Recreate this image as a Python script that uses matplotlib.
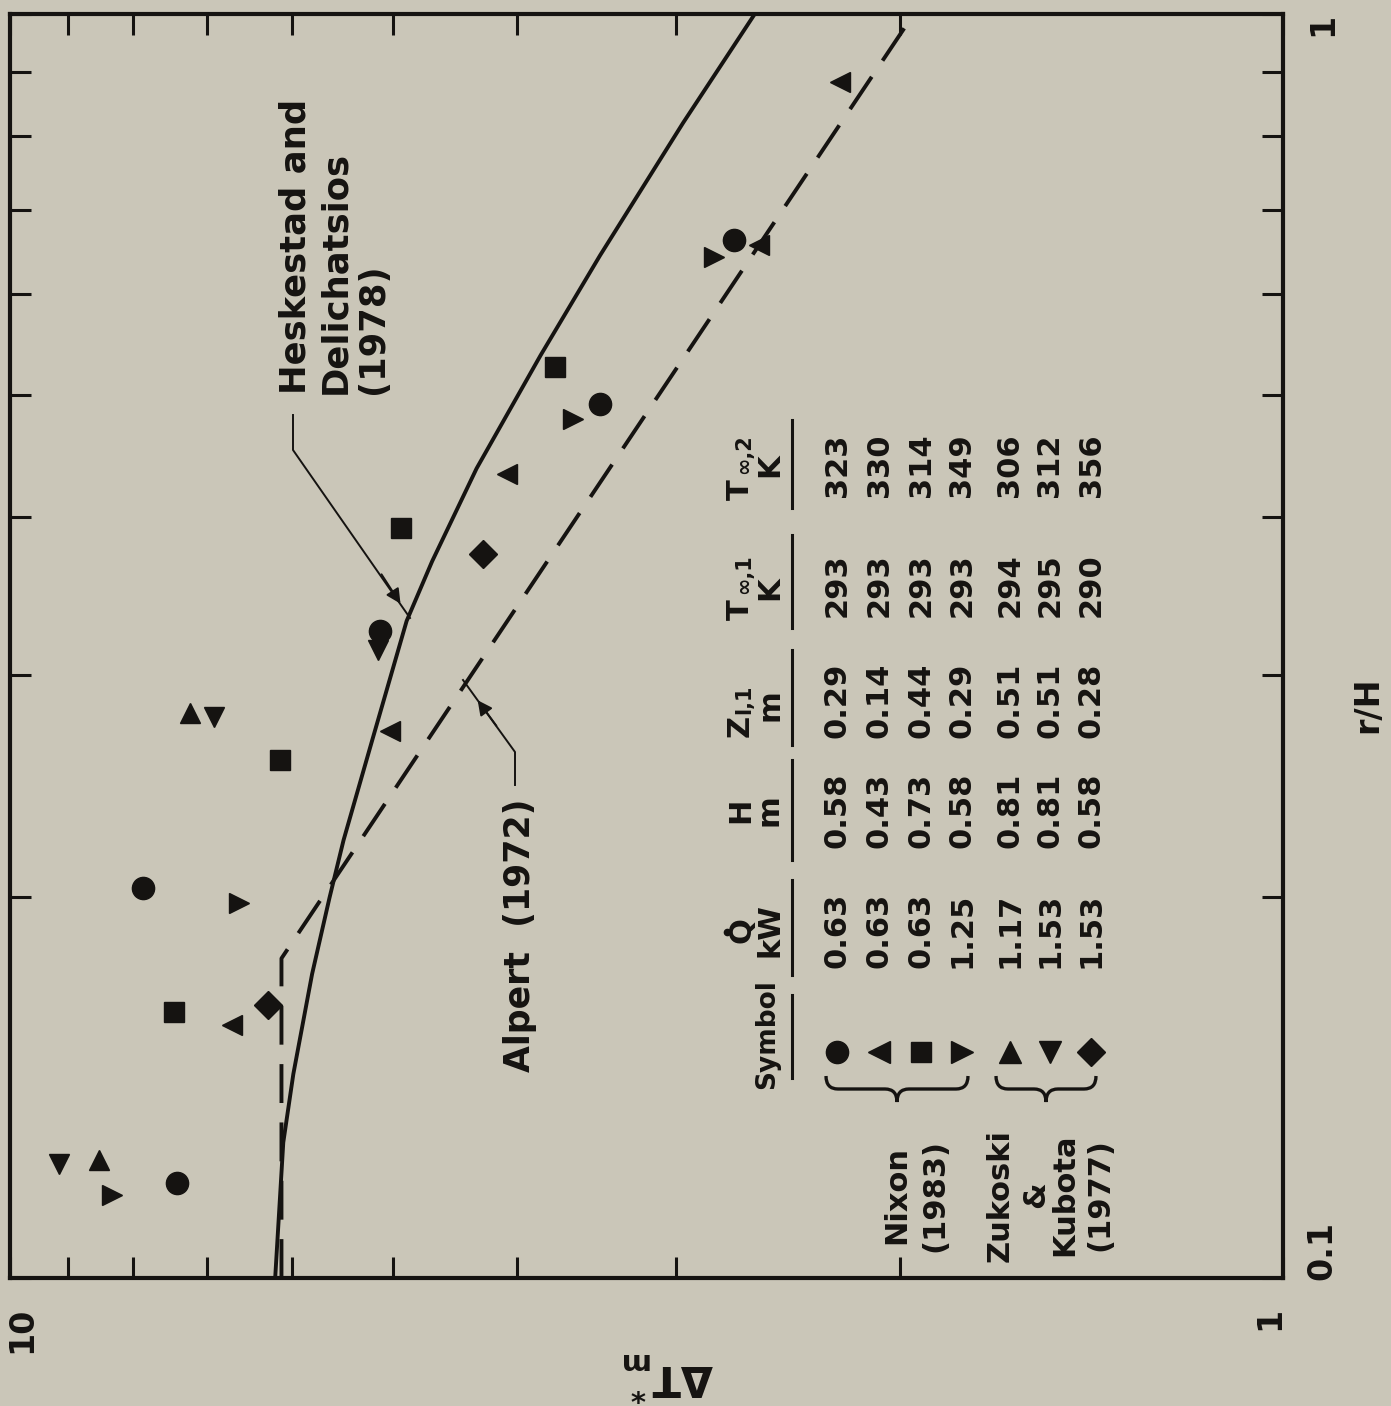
import numpy as np
import matplotlib
matplotlib.use("Agg")
import matplotlib.pyplot as plt
from matplotlib.path import Path
from matplotlib.patches import PathPatch, FancyArrowPatch

# rotated scanned figure: horizontal axis = dT*_m (10 -> 1), vertical axis = r/H (0.1 -> 1)

# Nixon (1983)
circle_rh = [0.119, 0.2035, 0.325, 0.491, 0.662]
circle_dt = [7.39, 7.86, 5.12, 3.44, 2.70]
left_rh = [0.1586, 0.271, 0.4326, 0.656, 0.884]
left_dt = [6.69, 5.03, 4.07, 2.58, 2.23]
square_rh = [0.1624, 0.257, 0.392, 0.5255]
square_dt = [7.43, 6.14, 4.93, 3.73]
right_rh = [0.1163, 0.198, 0.478, 0.642]
right_dt = [8.32, 6.61, 3.61, 2.80]
# Zukoski & Kubota (1977)
up_rh = [0.124, 0.28]
up_dt = [8.51, 7.22]
down_rh = [0.123, 0.278, 0.314]
down_dt = [9.15, 6.92, 5.14]
diam_rh = [0.1645, 0.374]
diam_dt = [6.27, 4.25]

# Heskestad and Delichatsios (1978)
hd_rh = [0.10, 0.128, 0.145, 0.174, 0.20, 0.222, 0.267, 0.331, 0.369, 0.437, 0.537, 0.644, 0.82, 1.0]
hd_dt = [6.19, 6.10, 5.99, 5.79, 5.61, 5.47, 5.19, 4.88, 4.66, 4.30, 3.83, 3.44, 2.96, 2.60]
# Alpert (1972)
al_rh = [0.10, 0.179, 1.0]
al_dt = [6.12, 6.12, 1.95]

# table
tab_q = [0.63, 0.63, 0.63, 1.25, 1.17, 1.53, 1.53]
tab_h = [0.58, 0.43, 0.73, 0.58, 0.81, 0.81, 0.58]
tab_z = [0.29, 0.14, 0.44, 0.29, 0.51, 0.51, 0.28]
tab_t1 = [293, 293, 293, 293, 294, 295, 290]
tab_t2 = [323, 330, 314, 349, 306, 312, 356]
tab_sym = ['o', '<', 's', '>', '^', 'v', 'D']

W, H = 1391, 1406
BG = '#cac6b8'
INK = '#151311'

plt.rcParams['font.family'] = 'DejaVu Sans'
plt.rcParams['font.weight'] = 'bold'
plt.rcParams['mathtext.fontset'] = 'custom'
plt.rcParams['mathtext.rm'] = 'DejaVu Sans:bold'
plt.rcParams['mathtext.it'] = 'DejaVu Sans:bold'
plt.rcParams['mathtext.bf'] = 'DejaVu Sans:bold'

fig = plt.figure(figsize=(W / 100, H / 100), dpi=100, facecolor=BG)


def P(x, y):
    # pixel (top-left origin) -> figure fraction
    return x / W, 1 - y / H


def T(x, y, s, size=22, **kw):
    kw.setdefault('ha', 'center')
    kw.setdefault('va', 'center')
    kw.setdefault('rotation', 90)
    fig.text(*P(x, y), s, fontsize=size, color=INK, fontweight='bold', **kw)


def seg(pts, lw=1.4):
    xs, ys = zip(*[P(*p) for p in pts])
    fig.add_artist(plt.Line2D(xs, ys, color=INK, lw=lw))


ax = fig.add_axes([10 / W, 1 - 1278 / H, 1273 / W, 1264 / H])
ax.set_facecolor(BG)
ax.set_xscale('log')
ax.set_yscale('log')
ax.set_xlim(10, 1)
ax.set_ylim(0.1, 1)
for sp in ax.spines.values():
    sp.set_linewidth(3)
    sp.set_color(INK)
ax.set_xticks([1, 10])
ax.set_xticks([2, 3, 4, 5, 6, 7, 8, 9], minor=True)
ax.set_yticks([0.1, 1])
ax.set_yticks([0.2, 0.3, 0.4, 0.5, 0.6, 0.7, 0.8, 0.9], minor=True)
ax.tick_params(which='both', direction='in', top=True, right=True, length=15,
               width=2.2, color=INK, labelbottom=False, labelleft=False)

ax.plot(hd_dt, hd_rh, '-', color=INK, lw=2.8, solid_capstyle='round', solid_joinstyle='round')
ax.plot(al_dt, al_rh, '-', color=INK, lw=2.8, dashes=(10, 5))

mk = dict(color=INK, ls='none', clip_on=False)
ax.plot(circle_dt, circle_rh, 'o', ms=16, **mk)
ax.plot(left_dt, left_rh, '<', ms=15, **mk)
ax.plot(square_dt, square_rh, 's', ms=14, **mk)
ax.plot(right_dt, right_rh, '>', ms=15, **mk)
ax.plot(up_dt, up_rh, '^', ms=15, **mk)
ax.plot(down_dt, down_rh, 'v', ms=15, **mk)
ax.plot(diam_dt, diam_rh, 'D', ms=14, **mk)

# tick labels and axis titles
T(22, 1330, '10', 24)
T(1270, 1318, '1', 24)
T(1322, 1250, '0.1', 24)
T(1323, 24, '1', 24)
T(1368, 705, 'r/H', 24)
T(668, 1378, r'$\Delta$T$^*_{\mathrm{m}}$', 30, rotation=180)

# curve labels
T(296, 394, 'Heskestad and', 25.5, va='bottom')
T(335, 394, 'Delichatsios', 25.5, va='bottom')
T(373, 394, '(1978)', 25.5, va='bottom')
T(520, 935, 'Alpert  (1972)', 25)

# leader lines
seg([(293, 415), (293, 450), (410, 618)])
seg([(515, 785), (515, 752), (463, 680)])
fig.patches.append(FancyArrowPatch(P(380, 572), P(402, 606), transform=fig.transFigure,
                                   arrowstyle='-|>', mutation_scale=22, color=INK, lw=1.4))
fig.patches.append(FancyArrowPatch(P(498, 728), P(476, 698), transform=fig.transFigure,
                                   arrowstyle='-|>', mutation_scale=22, color=INK, lw=1.4))

# table header
T(767, 1034, 'Symbol', 19)
T(742, 930, 'Q', 22)
qx, qy = P(727, 932)
fig.add_artist(plt.Line2D([qx], [qy], marker='o', ms=4.5, color=INK, ls='none'))
T(770, 930, 'kW', 22)
T(741, 810, 'H', 22)
T(769, 810, 'm', 22)
T(740, 726, 'Z', 22)
T(744, 699, 'l,1', 15)
T(770, 705, 'm', 22)
T(740, 610, 'T', 22)
T(744, 574, '\u221e,1', 15)
T(770, 588, 'K', 22)
T(740, 490, 'T', 22)
T(744, 454, '\u221e,2', 15)
T(770, 465, 'K', 22)
for y0, y1 in [(995, 1078), (880, 975), (760, 860), (650, 745), (535, 628), (420, 508)]:
    seg([(792, y0), (792, y1)], lw=2.2)

cols_x = [837, 879, 921, 962, 1010, 1050, 1091]
for i, cx in enumerate(cols_x):
    T(cx, 930, '%.2f' % tab_q[i], 22)
    T(cx, 810, '%.2f' % tab_h[i], 22)
    T(cx, 700, '%.2f' % tab_z[i], 22)
    T(cx, 585, '%d' % tab_t1[i], 22)
    T(cx, 465, '%d' % tab_t2[i], 22)
    fx, fy = P(cx, 1052)
    ms = 14 if tab_sym[i] in 'sD' else 16
    fig.add_artist(plt.Line2D([fx], [fy], marker=tab_sym[i], ms=ms, color=INK, ls='none'))


def brace(x0, x1, y0, d):
    xm = (x0 + x1) / 2
    r = 12
    verts = [(x0, y0), (x0, y0 + d / 2), (x0 + r, y0 + d / 2), (xm - r, y0 + d / 2),
             (xm, y0 + d / 2), (xm, y0 + d), (xm, y0 + d / 2), (xm + r, y0 + d / 2),
             (x1 - r, y0 + d / 2), (x1, y0 + d / 2), (x1, y0)]
    codes = [Path.MOVETO, Path.CURVE3, Path.CURVE3, Path.LINETO, Path.CURVE3, Path.CURVE3,
             Path.CURVE3, Path.CURVE3, Path.LINETO, Path.CURVE3, Path.CURVE3]
    pth = Path([P(*v) for v in verts], codes)
    fig.add_artist(PathPatch(pth, transform=fig.transFigure, fc='none', ec=INK, lw=2.4))


brace(826, 968, 1076, 26)
brace(996, 1096, 1076, 26)

T(897, 1195, 'Nixon', 22)
T(935, 1195, '(1983)', 22)
T(1000, 1195, 'Zukoski', 22)
T(1036, 1195, '&', 22)
T(1065, 1195, 'Kubota', 22)
T(1100, 1195, '(1977)', 22)

fig.savefig('out.png', dpi=100, facecolor=BG)
